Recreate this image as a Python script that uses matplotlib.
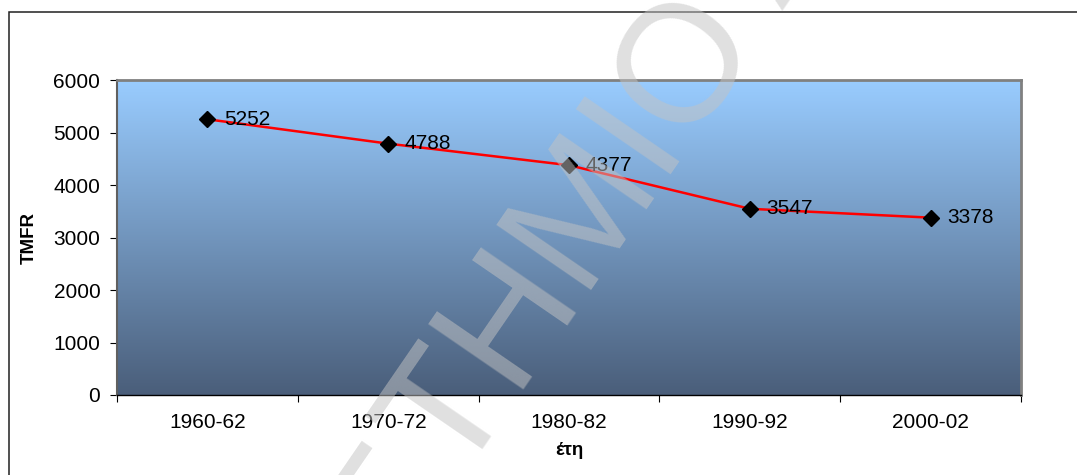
import numpy as np
import matplotlib.pyplot as plt
from matplotlib.patches import Rectangle

periods = ["1960-62", "1970-72", "1980-82", "1990-92", "2000-02"]
tmfr = [5252, 4788, 4377, 3547, 3378]
yticks = [0, 1000, 2000, 3000, 4000, 5000, 6000]

plt.rcParams['font.family'] = ['Liberation Sans', 'DejaVu Sans']

W, H = 1077, 475
fig = plt.figure(figsize=(W / 100, H / 100), dpi=100)
ax = fig.add_axes([117 / W, 1 - 395 / H, (1021 - 117) / W, (395 - 80) / H])

# gradient background of the plot area
top = np.array([153, 204, 255]) / 255
bot = np.array([74, 94, 122]) / 255
t = np.linspace(0, 1, 256)[:, None]
grad = (top * (1 - t) + bot * t)[:, None, :]
ax.imshow(grad, extent=(-0.5, 4.5, 0, 6000), aspect='auto', zorder=0)

x = np.arange(len(periods))
ax.plot(x, tmfr, color='#ff0000', lw=1.8, marker='D', ms=8,
        mfc='black', mec='black', zorder=3)
for xi, v in zip(x, tmfr):
    ax.annotate(str(v), (xi, v), xytext=(12, 0), textcoords='offset points',
                va='center', ha='left', fontsize=15, zorder=4)

ax.set_xlim(-0.5, 4.5)
ax.set_ylim(0, 6000)
ax.set_yticks(yticks)
ax.set_yticklabels([str(v) for v in yticks], fontsize=15)
ax.set_xticks(np.arange(-0.5, 5, 1))
ax.set_xticklabels([])
ax.set_xticks(x, minor=True)
ax.set_xticklabels(periods, minor=True, fontsize=15)
ax.tick_params(axis='x', which='major', length=5, direction='out', color='black')
ax.tick_params(axis='x', which='minor', length=0, pad=13)
ax.tick_params(axis='y', length=5, direction='out', pad=7, color='black')

for s in ['top', 'right']:
    ax.spines[s].set_color('#808080')
    ax.spines[s].set_linewidth(2)
ax.spines['left'].set_color('#606060')
ax.spines['left'].set_linewidth(1.5)
ax.spines['bottom'].set_color('black')
ax.spines['bottom'].set_linewidth(1)

ax.set_ylabel("TMFR", fontsize=13.5, fontweight='bold', labelpad=11)
ax.set_xlabel("έτη", fontsize=13.5, fontweight='bold', labelpad=7)

# outer chart frame (only top and left are visible)
fig.add_artist(Rectangle((8.5 / W, -0.5), 2, (H - 11.5) / H + 0.5,
                         transform=fig.transFigure, fill=False,
                         edgecolor='#202020', lw=1.1))

# watermark
wm = dict(rotation=55.5, rotation_mode='anchor', va='baseline', fontsize=120,
          color=(195 / 255, 195 / 255, 195 / 255), alpha=0.52, zorder=10)
fig.text(458 / W, 1 - 484 / H, "ΠΑΝΕΠΙΣ", ha='right', **wm)
fig.text(458 / W, 1 - 484 / H, "ΤΗΜΙΟ ΑΙΓΑΙΟΥ", ha='left', **wm)

fig.savefig("out.png", dpi=100)
